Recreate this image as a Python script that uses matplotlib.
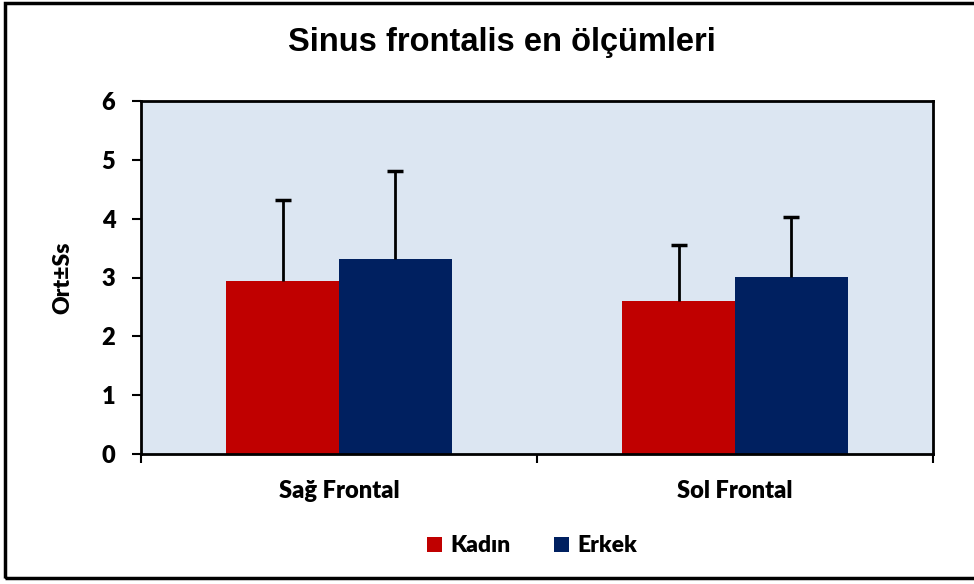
import matplotlib
matplotlib.use('Agg')
import matplotlib.pyplot as plt
import numpy as np
from matplotlib.patches import Rectangle

categories = ['Sağ Frontal', 'Sol Frontal']
series = ['Kadın', 'Erkek']
means = {'Kadın': [2.94, 2.60], 'Erkek': [3.31, 3.01]}
sds = {'Kadın': [1.37, 0.96], 'Erkek': [1.50, 1.01]}
colors = {'Kadın': '#C00000', 'Erkek': '#002060'}

plt.rcParams['font.family'] = ['Lato', 'DejaVu Sans']

fig = plt.figure(figsize=(9.74, 5.84), dpi=100)
ax = fig.add_axes([141/974, 1-454/584, (933-141)/974, (454-101)/584])
ax.set_facecolor('#DCE6F2')

x = np.arange(len(categories))
w = 0.285
for i, s in enumerate(series):
    pos = x + (i - 0.5) * w
    ax.bar(pos, means[s], width=w, color=colors[s], label=s, zorder=2)
    eb = ax.errorbar(pos, means[s], yerr=[np.zeros(len(x)), sds[s]], fmt='none',
                     ecolor='black', elinewidth=2, capsize=6, capthick=2.5, zorder=3)
    eb[1][0].set_visible(False)  # no cap at bar top

ax.set_xlim(-0.5, 1.5)
ax.set_ylim(0, 6)
ax.set_yticks(range(7))
ax.set_xticks([-0.5, 0.5, 1.5], minor=False)
ax.set_xticklabels([])
ax.set_xticks(x, minor=True)
ax.set_xticklabels(categories, minor=True, fontsize=17, fontweight='heavy')
ax.tick_params(axis='x', which='minor', length=0, pad=19)
ax.tick_params(axis='x', which='major', length=6.5, width=1.5, direction='out')
ax.tick_params(axis='y', length=6.5, width=1.5, labelsize=17, pad=12)
for lab in ax.get_yticklabels():
    lab.set_fontweight('heavy')
for sp in ax.spines.values():
    sp.set_linewidth(2)
    sp.set_color('black')

ax.set_ylabel('Ort±Ss', fontsize=16.5, fontweight='heavy', labelpad=20)

fig.text(0.515, 1-43/584, 'Sinus frontalis en ölçümleri', ha='center', va='center',
         fontsize=23.5, fontweight='bold', family=['Liberation Sans', 'DejaVu Sans'])

leg = fig.legend(loc='center', bbox_to_anchor=(532/974, 1-546/584), ncol=2, frameon=False,
                 prop={'size': 16.5, 'weight': 'heavy'}, handlelength=0.65, handleheight=0.65,
                 columnspacing=1.9, handletextpad=0.35)

fig.patches.append(Rectangle((5/974, 6/584), 1.0, 1-9/584, transform=fig.transFigure,
                             fill=False, edgecolor='black', linewidth=2.5))

fig.savefig('out.png', dpi=100)
